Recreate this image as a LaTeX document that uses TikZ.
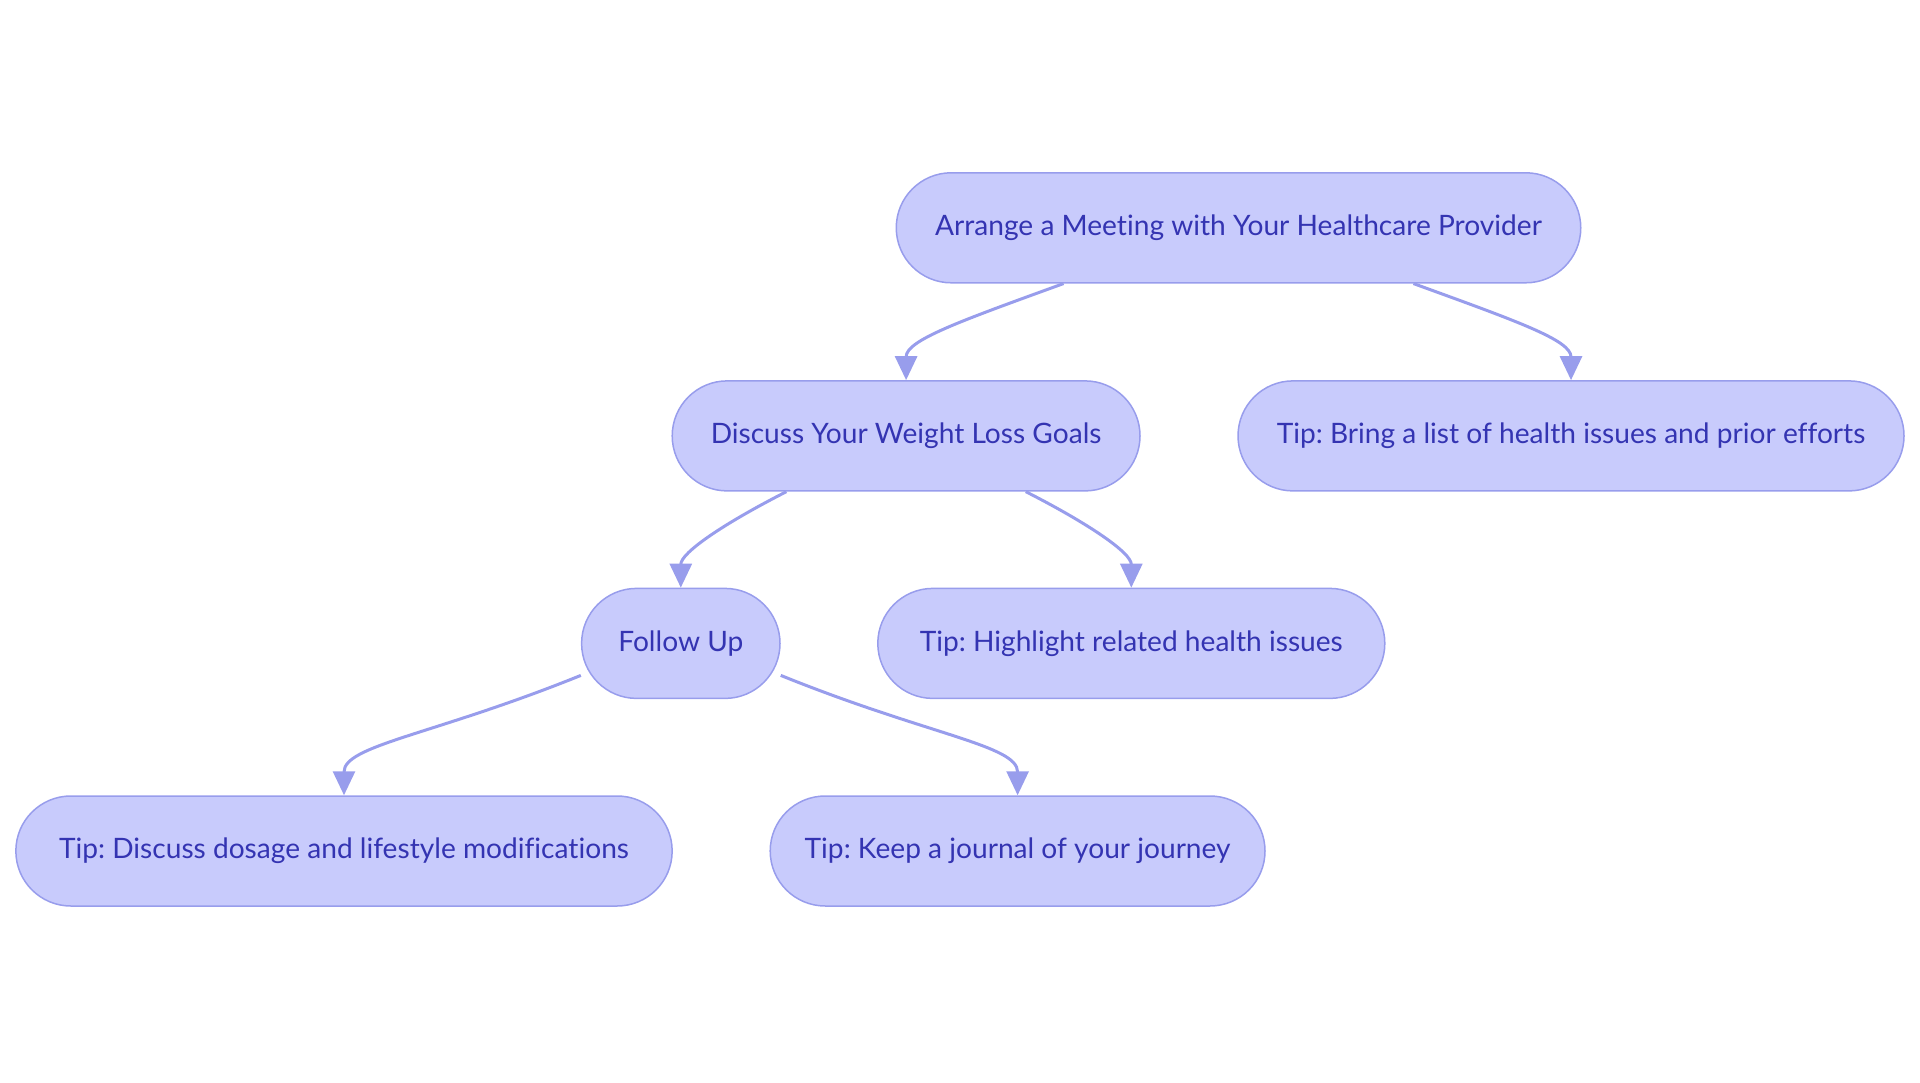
\documentclass[tikz,border=0pt]{standalone}
\usepackage{fontspec}
\setmainfont{Lato}[Ligatures=NoCommon]
\usetikzlibrary{calc, positioning, arrows.meta}
\definecolor{pillfill}{RGB}{200,203,252}
\definecolor{pillline}{RGB}{152,157,236}
\definecolor{pilltext}{RGB}{52,52,178}
\frenchspacing

\begin{document}
\begin{tikzpicture}[
        pill/.style={rectangle, rounded corners=0.55cm, draw=pillline, line width=0.015cm, fill=pillfill,
            text=pilltext, font=\fontsize{8}{9.5}\selectfont, minimum height=1.1cm, inner sep=0pt},
        link/.style={draw=pillline, line width=0.03cm, -{Triangle[length=0.24cm, width=0.22cm]}}
    ]
            \useasboundingbox (0,0) rectangle (19.2,-10.83);
            \node[pill, minimum width=6.845cm] (meet) at (12.385,-2.278) {Arrange a Meeting with Your Healthcare Provider};
            \node[pill, minimum width=4.678cm] (disc) at (9.061,-4.359) {Discuss Your Weight Loss Goals};
            \node[pill, minimum width=6.66cm] (bring) at (15.71,-4.359) {Tip: Bring a list of health issues and prior efforts};
            \node[pill, minimum width=1.984cm] (fu) at (6.808,-6.434) {Follow Up};
            \node[pill, minimum width=5.07cm] (high) at (11.313,-6.434) {Tip: Highlight related health issues};
            \node[pill, minimum width=6.563cm] (dose) at (3.44,-8.51) {Tip: Discuss dosage and lifestyle modifications};
            \node[pill, minimum width=4.948cm] (jour) at (10.176,-8.51) {Tip: Keep a journal of your journey};
            \draw[link] ($(meet.south west)!0.245!(meet.south east)$) to[out=-160, in=90, out distance=1.1cm, in distance=0.4cm] (disc.north);
            \draw[link] ($(meet.south west)!0.755!(meet.south east)$) to[out=-20, in=90, out distance=1.1cm, in distance=0.4cm] (bring.north);
            \draw[link] ($(disc.south west)!0.245!(disc.south east)$) to[out=-153, in=90, out distance=0.7cm, in distance=0.35cm] (fu.north);
            \draw[link] ($(disc.south west)!0.755!(disc.south east)$) to[out=-27, in=90, out distance=0.7cm, in distance=0.35cm] (high.north);
            \draw[link] ([yshift=-0.32cm]fu.west) to[out=-158, in=90, out distance=1.6cm, in distance=0.5cm] (dose.north);
            \draw[link] ([yshift=-0.32cm]fu.east) to[out=-22, in=90, out distance=1.6cm, in distance=0.5cm] (jour.north);
        \end{tikzpicture}
\end{document}
